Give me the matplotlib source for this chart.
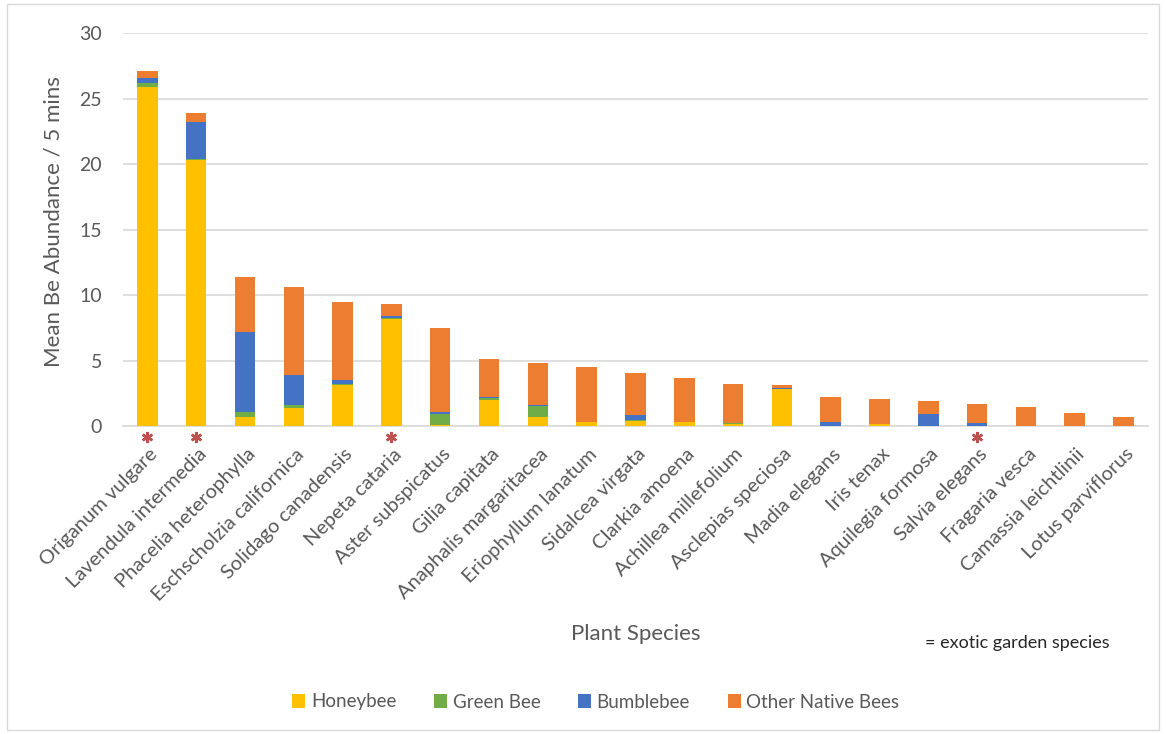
import matplotlib.pyplot as plt
import matplotlib.patches as patches
import matplotlib.transforms as mtransforms
import numpy as np

plt.rcParams['font.family'] = ['Lato', 'DejaVu Sans']

species = ['Origanum vulgare', 'Lavendula intermedia', 'Phacelia heterophylla',
           'Eschscholzia californica', 'Solidago canadensis', 'Nepeta cataria',
           'Aster subspicatus', 'Gilia capitata', 'Anaphalis margaritacea',
           'Eriophyllum lanatum', 'Sidalcea virgata', 'Clarkia amoena',
           'Achillea millefolium', 'Asclepias speciosa', 'Madia elegans',
           'Iris tenax', 'Aquilegia formosa', 'Salvia elegans', 'Fragaria vesca',
           'Camassia leichtlinii', 'Lotus parviflorus']
exotic = ['Origanum vulgare', 'Lavendula intermedia', 'Nepeta cataria', 'Salvia elegans']

honeybee = [25.9, 20.3, 0.7, 1.35, 3.1, 8.2, 0.1, 2.0, 0.65, 0.3, 0.4,
            0.3, 0.15, 2.85, 0.0, 0.15, 0.0, 0.0, 0.0, 0.0, 0.0]
green_bee = [0.3, 0.1, 0.4, 0.25, 0.1, 0.05, 0.8, 0.15, 0.85, 0.0, 0.05,
             0.0, 0.1, 0.0, 0.0, 0.0, 0.0, 0.0, 0.0, 0.0, 0.0]
bumblebee = [0.4, 2.8, 6.1, 2.3, 0.3, 0.15, 0.15, 0.05, 0.1, 0.0, 0.4,
             0.0, 0.0, 0.05, 0.3, 0.0, 0.95, 0.25, 0.0, 0.0, 0.0]
other_native = [0.5, 0.7, 4.2, 6.7, 6.0, 0.95, 6.45, 2.95, 3.2, 4.2, 3.2,
                3.35, 2.95, 0.2, 1.9, 1.9, 0.95, 1.4, 1.47, 1.0, 0.7]

series = [('Honeybee', honeybee, '#FFC000'),
          ('Green Bee', green_bee, '#70AD47'),
          ('Bumblebee', bumblebee, '#4472C4'),
          ('Other Native Bees', other_native, '#ED7D31')]

text_col = '#595959'

fig = plt.figure(figsize=(11.66, 7.34), dpi=100)
ax = fig.add_axes([0.1055, 0.4196, 0.879, 0.5354])

x = np.arange(len(species))
bottom = np.zeros(len(species))
for name, vals, col in series:
    ax.bar(x, vals, 0.42, bottom=bottom, color=col, label=name, zorder=3)
    bottom += np.array(vals)

ax.set_xlim(-0.5, len(species) - 0.5)
ax.set_ylim(0, 30)
ax.set_yticks(range(0, 31, 5))
ax.yaxis.grid(True, color='#D9D9D9', linewidth=1.2, zorder=0)
for s in ['top', 'right', 'left']:
    ax.spines[s].set_visible(False)
ax.spines['bottom'].set_color('#D9D9D9')
ax.spines['bottom'].set_linewidth(1.2)
ax.tick_params(axis='y', length=0, pad=15, labelsize=14, labelcolor=text_col)
ax.tick_params(axis='x', length=0, pad=14, labelsize=14.5, labelcolor=text_col)
ax.set_xticks(x)
ax.set_xticklabels(species, rotation=45, ha='right', va='top', rotation_mode='anchor')
shift = mtransforms.ScaledTranslation(1 / 72, 0, fig.dpi_scale_trans)
for lab in ax.get_xticklabels():
    lab.set_transform(lab.get_transform() + shift)

ax.set_ylabel('Mean Be Abundance / 5 mins', fontsize=16, color=text_col)
ax.yaxis.set_label_coords(-0.0585, 0.519)
ax.set_xlabel('Plant Species', fontsize=16, color=text_col)
ax.xaxis.set_label_coords(0.5, -0.505)

# red asterisks under the exotic garden species
ex_x = [species.index(s) for s in exotic]
ax.plot(ex_x, [-0.85] * len(ex_x), linestyle='none', marker=(6, 2, 0), ms=8,
        mew=1.8, color='#C0504D', clip_on=False, zorder=4)

fig.text(0.793, 1 - 643 / 734, '= exotic garden species', fontsize=13, color='#262626',
         va='center')

handles, labels = ax.get_legend_handles_labels()
fig.legend(handles, labels, loc='center', bbox_to_anchor=(0.511, 1 - 702 / 734), ncol=4,
           frameon=False, fontsize=13.5, labelcolor=text_col, handlelength=0.7,
           handleheight=0.7, handletextpad=0.3, columnspacing=2.0)

fig.patches.append(patches.Rectangle((0.006, 0.006), 0.988, 0.988, transform=fig.transFigure,
                                     fill=False, edgecolor='#D9D9D9', linewidth=1))

fig.savefig('out.png', dpi=100)
